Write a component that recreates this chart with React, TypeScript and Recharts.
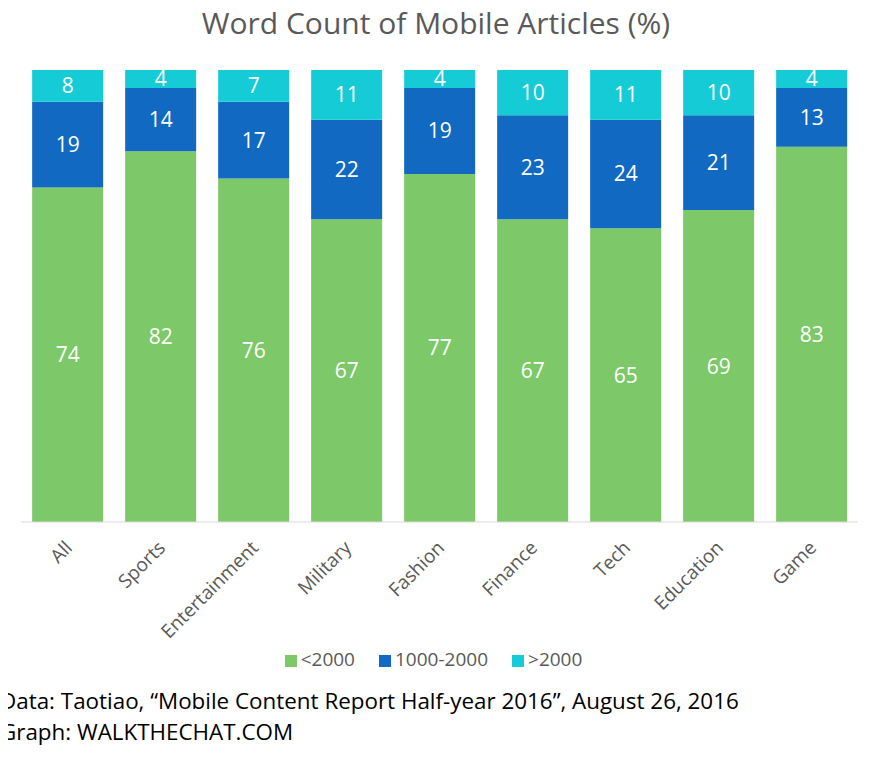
import { Bar, BarChart, LabelList, Legend, XAxis, YAxis } from "recharts";

const categories = [
  "All",
  "Sports",
  "Entertainment",
  "Military",
  "Fashion",
  "Finance",
  "Tech",
  "Education",
  "Game",
];
const under2000 = [74, 82, 76, 67, 77, 67, 65, 69, 83];
const mid1000to2000 = [19, 14, 17, 22, 19, 23, 24, 21, 13];
const over2000 = [8, 4, 7, 11, 4, 10, 11, 10, 4];
const seriesNames = ["<2000", "1000-2000", ">2000"];

const data = categories.map((name, i) => ({
  name,
  short: under2000[i],
  mid: mid1000to2000[i],
  long: over2000[i],
}));

const FONT = "'Open Sans', sans-serif";
const GREY = "#595959";

function AngledTick({ x, y, payload }: { x: number; y: number; payload: { value: string } }) {
  const tx = x + 6;
  const ty = y + 19;
  return (
    <text
      x={tx}
      y={ty}
      transform={`rotate(-45 ${tx} ${ty})`}
      textAnchor="end"
      fill={GREY}
      fontSize={19}
      fontFamily={FONT}
    >
      {payload.value}
    </text>
  );
}

const labelStyle = { fill: "#ffffff", fontSize: 21, fontFamily: FONT };

export default function App() {
  return (
    <div
      style={{
        position: "relative",
        width: 872,
        height: 762,
        margin: -8,
        background: "#ffffff",
        fontFamily: FONT,
        overflow: "hidden",
      }}
    >
      <div
        style={{
          position: "absolute",
          top: 2,
          left: 0,
          width: 872,
          textAlign: "center",
          fontSize: 30,
          color: GREY,
        }}
      >
        Word Count of Mobile Articles (%)
      </div>
      <BarChart
        width={872}
        height={680}
        data={data}
        margin={{ top: 70, right: 14, left: 21, bottom: 8 }}
        barCategoryGap="12%"
      >
        <XAxis
          dataKey="name"
          interval={0}
          height={124}
          tickLine={false}
          axisLine={{ stroke: "#d9d9d9" }}
          tick={AngledTick}
        />
        <YAxis hide domain={[0, 100]} allowDataOverflow />
        <Legend
          verticalAlign="bottom"
          iconType="square"
          iconSize={12}
          itemSorter={(item: { value?: string }) => seriesNames.indexOf(String(item.value))}
          wrapperStyle={{ fontSize: 19, fontFamily: FONT, paddingLeft: 6 }}
          formatter={(value) => <span style={{ color: GREY, marginRight: 14 }}>{value}</span>}
        />
        <Bar dataKey="short" name="<2000" stackId="a" fill="#7dc868" isAnimationActive={false}>
          <LabelList dataKey="short" position="center" style={labelStyle} />
        </Bar>
        <Bar dataKey="mid" name="1000-2000" stackId="a" fill="#1169c2" isAnimationActive={false}>
          <LabelList dataKey="mid" position="center" style={labelStyle} />
        </Bar>
        <Bar dataKey="long" name=">2000" stackId="a" fill="#14cbd6" isAnimationActive={false}>
          <LabelList dataKey="long" position="center" style={labelStyle} />
        </Bar>
      </BarChart>
      <div
        style={{
          position: "absolute",
          left: 0,
          top: 685,
          fontSize: 22.4,
          lineHeight: "31px",
          color: "#000000",
          whiteSpace: "nowrap",
        }}
      >
        Data: Taotiao, “Mobile Content Report Half-year 2016”, August 26, 2016
        <br />
        Graph: WALKTHECHAT.COM
      </div>
    </div>
  );
}
